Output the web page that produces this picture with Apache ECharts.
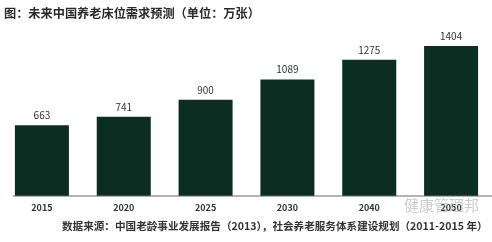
<!DOCTYPE html>
<html>
<head>
<meta charset="utf-8">
<script src="https://cdn.jsdelivr.net/npm/echarts@6/dist/echarts.min.js"></script>
<style>
  html, body { margin: 0; padding: 0; background: #fff; }
  #main { width: 492px; height: 242px; }
</style>
</head>
<body>
<div id="main"></div>
<script>
// 未来中国养老床位需求预测 (万张)
var years = ['2015', '2020', '2025', '2030', '2040', '2050'];
var beds = [663, 741, 900, 1089, 1275, 1404];

var font = '"Noto Sans CJK SC", "Liberation Sans", sans-serif';
var myChart = echarts.init(document.getElementById('main'));

var option = {
    backgroundColor: '#fff',
    animation: false,
    title: {
        text: '图：未来中国养老床位需求预测（单位：万张）',
        left: -1,
        top: 2,
        textStyle: { fontFamily: font, fontSize: 12.2, fontWeight: 'bold', color: '#2a2a2a' }
    },
    grid: {
        left: 1,
        top: 25,
        width: 494,
        bottom: 46
    },
    xAxis: {
        type: 'category',
        data: years,
        axisLine: { show: false },
        axisTick: { show: false },
        axisLabel: {
            margin: 7,
            fontFamily: font,
            fontSize: 9,
            fontWeight: 'bold',
            color: '#333'
        }
    },
    yAxis: {
        type: 'value',
        min: 0,
        max: 1600,
        show: false,
        splitLine: { show: false }
    },
    series: [{
        type: 'bar',
        data: beds,
        barWidth: '66%',
        itemStyle: { color: '#0b2d22' },
        label: {
            show: true,
            position: 'top',
            distance: 5,
            fontFamily: font,
            fontSize: 10,
            color: '#333'
        }
    }],
    graphic: [
        {
            type: 'line',
            shape: { x1: 13, y1: 196, x2: 492, y2: 196 },
            style: { stroke: '#666', lineWidth: 1 },
            z: 10
        },
        {
            type: 'text',
            left: 62,
            top: 221,
            style: {
                text: '数据来源：中国老龄事业发展报告（2013），社会养老服务体系建设规划（2011-2015 年）',
                font: 'bold 10.6px ' + font,
                fill: '#333'
            }
        },
        {
            type: 'text',
            left: 404,
            top: 198,
            style: {
                text: '健康管理邦',
                font: '15px ' + font,
                fill: 'rgba(170,170,170,0.6)'
            },
            z: 20
        }
    ]
};
myChart.setOption(option);
</script>
</body>
</html>
